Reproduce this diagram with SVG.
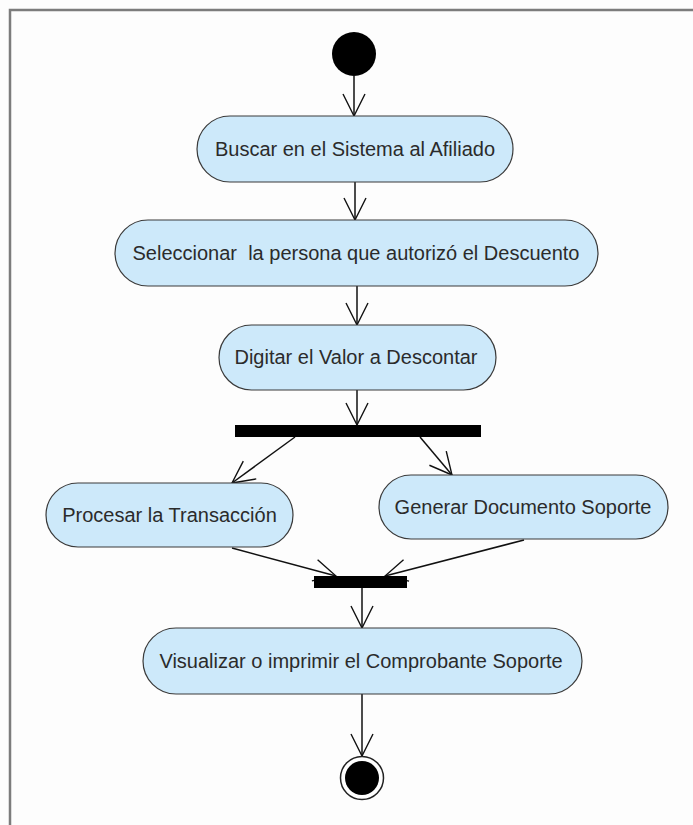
<svg xmlns="http://www.w3.org/2000/svg" width="693" height="825" viewBox="0 0 693 825">
  <style>
    .act { fill: #cde9fa; stroke: #3a3a3a; stroke-width: 1.2; }
    .lbl { font-family: "Liberation Sans", Arial, sans-serif; font-size: 20px; fill: #2b2b2b; text-anchor: middle; }
    .bar { fill: #000; }
    .flow { stroke: #111; stroke-width: 1.5; fill: none; marker-end: url(#open); }
  </style>
  <defs>
    <marker id="open" markerUnits="userSpaceOnUse" viewBox="-24 -13 26 26" markerWidth="26" markerHeight="26" refX="0" refY="0" orient="auto" overflow="visible">
      <path d="M -22 -11 L 0 0 L -22 11" fill="none" stroke="#111" stroke-width="1.4"/>
    </marker>
  </defs>

  <rect width="693" height="825" fill="#fdfdfd"/>

  <!-- frame: top and left edges -->
  <path d="M 10 825 L 10 10 L 693 10" fill="none" stroke="#7c7c7c" stroke-width="2.5"/>

  <g id="connectors">
    <line class="flow" x1="354" y1="76" x2="354" y2="116"/>
    <line class="flow" x1="355" y1="182" x2="355" y2="220"/>
    <line class="flow" x1="357" y1="286" x2="357" y2="325"/>
    <line class="flow" x1="357" y1="390" x2="357" y2="425"/>
    <line class="flow" x1="295" y1="437" x2="232" y2="483"/>
    <line class="flow" x1="420" y1="437" x2="452" y2="475"/>
    <line class="flow" x1="232" y1="548" x2="336" y2="576"/>
    <line class="flow" x1="524" y1="540" x2="385" y2="576"/>
    <line class="flow" x1="362" y1="588" x2="362" y2="628"/>
    <line class="flow" x1="362" y1="694" x2="362" y2="756"/>
  </g>

  <g id="start">
    <circle cx="354" cy="54" r="22" fill="#000"/>
  </g>

  <g id="buscar">
    <rect class="act" x="197" y="116" width="316" height="66" rx="33" ry="33"/>
    <text class="lbl" x="355" y="156">Buscar en el Sistema al Afiliado</text>
  </g>

  <g id="seleccionar">
    <rect class="act" x="115" y="220" width="483" height="66" rx="33" ry="33"/>
    <text class="lbl" x="356" y="260" xml:space="preserve">Seleccionar  la persona que autorizó el Descuento</text>
  </g>

  <g id="digitar">
    <rect class="act" x="219" y="325" width="277" height="65" rx="32.5" ry="32.5"/>
    <text class="lbl" x="356" y="364">Digitar el Valor a Descontar</text>
  </g>

  <g id="fork">
    <rect class="bar" x="235" y="425" width="246" height="12"/>
  </g>

  <g id="procesar">
    <rect class="act" x="46" y="483" width="247" height="64" rx="32" ry="32"/>
    <text class="lbl" x="169.5" y="522">Procesar la Transacción</text>
  </g>

  <g id="generar">
    <rect class="act" x="379" y="475" width="289" height="64" rx="32" ry="32"/>
    <text class="lbl" x="523" y="514">Generar Documento Soporte</text>
  </g>

  <g id="join">
    <rect class="bar" x="314" y="576" width="93" height="12"/>
  </g>

  <g id="visualizar">
    <rect class="act" x="143" y="628" width="439" height="66" rx="33" ry="33"/>
    <text class="lbl" x="361" y="668">Visualizar o imprimir el Comprobante Soporte</text>
  </g>

  <g id="end">
    <circle cx="362" cy="778" r="21.5" fill="#fff" stroke="#222" stroke-width="1.5"/>
    <circle cx="362" cy="778" r="17" fill="#000"/>
  </g>
</svg>
